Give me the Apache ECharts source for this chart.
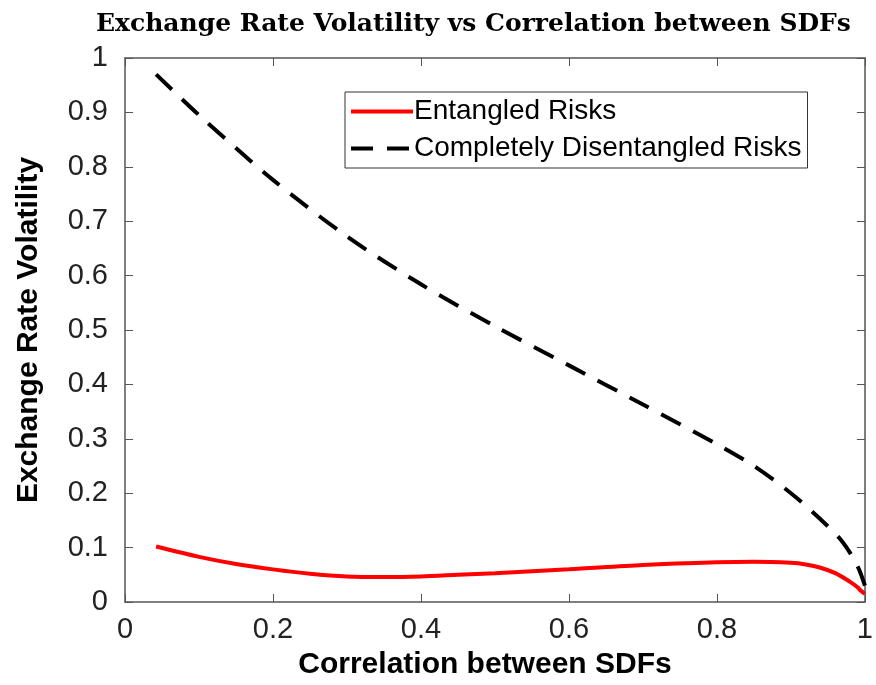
<!DOCTYPE html>
<html>
<head>
<meta charset="utf-8">
<title>Exchange Rate Volatility</title>
<script src="https://cdn.jsdelivr.net/npm/echarts@6/dist/echarts.min.js"></script>
<style>
    html,body{margin:0;padding:0;background:#fff;}
    #main{width:876px;height:685px;}
</style>
</head>
<body>
<div id="main"></div>
<script>
// values
var entangledX = [0.042, 0.1, 0.15, 0.2, 0.25, 0.3, 0.35, 0.4, 0.45, 0.5, 0.6, 0.7, 0.8, 0.85, 0.9, 0.92, 0.94, 0.96, 0.98, 0.99, 0.995, 1.0];
var entangledY = [0.102, 0.083, 0.07, 0.06, 0.052, 0.047, 0.046, 0.047, 0.05, 0.053, 0.06, 0.068, 0.073, 0.074, 0.072, 0.069, 0.063, 0.053, 0.037, 0.027, 0.02, 0.015];
var disentX = [0.042, 0.1, 0.2, 0.3, 0.4, 0.5, 0.6, 0.7, 0.8, 0.85, 0.9, 0.94, 0.97, 0.99, 1.0];
var disentY = [0.97, 0.895, 0.776, 0.672, 0.584, 0.507, 0.435, 0.363, 0.29, 0.25, 0.2, 0.152, 0.11, 0.066, 0.03];
var seriesNames = ['Entangled Risks', 'Completely Disentangled Risks'];

function pairs(xs, ys){
    var out = [];
    for (var i = 0; i < xs.length; i++) out.push([xs[i], ys[i]]);
    return out;
}

var axisColor = '#555';
var labelFont = {fontFamily: 'Liberation Sans', fontSize: 29, color: '#222'};
var nameFont = {fontFamily: 'Liberation Sans', fontWeight: 'bold', fontSize: 30, color: '#000'};

// matlab style box: ticks inside on all four sides
function boxAxis(extra){
    var ax = {
        type: 'value', min: 0, max: 1,
        axisLine: {show: true, onZero: false, lineStyle: {color: axisColor, width: 1.5}},
        axisTick: {show: true, inside: true, length: 8, lineStyle: {color: axisColor}},
        axisLabel: {show: false},
        splitLine: {show: false}
    };
    return Object.assign(ax, extra);
}

var chart = echarts.init(document.getElementById('main'));
var option = {
    backgroundColor: '#fff',
    animation: false,
    title: {
        text: 'Exchange Rate Volatility vs Correlation between SDFs',
        left: 91,
        top: 7,
        textStyle: {fontFamily: 'DejaVu Serif', fontWeight: 'bold', fontSize: 25, color: '#000'}
    },
    legend: {
        orient: 'vertical',
        left: 345,
        top: 92,
        itemWidth: 62,
        itemHeight: 16,
        itemGap: 4,
        padding: [3, 6, 3, 4],
        borderColor: '#333',
        borderWidth: 1,
        backgroundColor: '#fff',
        itemStyle: {opacity: 0},
        lineStyle: {width: 4},
        textStyle: {fontFamily: 'Liberation Sans', fontSize: 28, lineHeight: 33, color: '#000', padding: [0, 0, 0, -4]},
        data: seriesNames
    },
    grid: {left: 125, right: 5, top: 58, bottom: 82},
    xAxis: [
        boxAxis({
            interval: 0.2,
            name: 'Correlation between SDFs',
            nameLocation: 'middle',
            nameGap: 48,
            nameTextStyle: Object.assign({padding: [0, 20, 0, 0]}, nameFont),
            axisLabel: Object.assign({show: true, margin: 13}, labelFont)
        }),
        boxAxis({interval: 0.2, position: 'top'})
    ],
    yAxis: [
        boxAxis({
            interval: 0.1,
            name: 'Exchange Rate Volatility',
            nameLocation: 'middle',
            nameGap: 81,
            nameTextStyle: nameFont,
            axisLabel: Object.assign({show: true, margin: 17}, labelFont)
        }),
        boxAxis({interval: 0.1, position: 'right'})
    ],
    series: [
        {
            name: seriesNames[0],
            type: 'line',
            smooth: 0.3,
            symbol: 'none',
            color: '#f00',
            lineStyle: {color: '#f00', width: 4},
            data: pairs(entangledX, entangledY)
        },
        {
            name: seriesNames[1],
            type: 'line',
            smooth: 0.3,
            symbol: 'none',
            color: '#000',
            lineStyle: {color: '#000', width: 4, type: [22, 14]},
            data: pairs(disentX, disentY)
        }
    ]
};
chart.setOption(option);
</script>
</body>
</html>
